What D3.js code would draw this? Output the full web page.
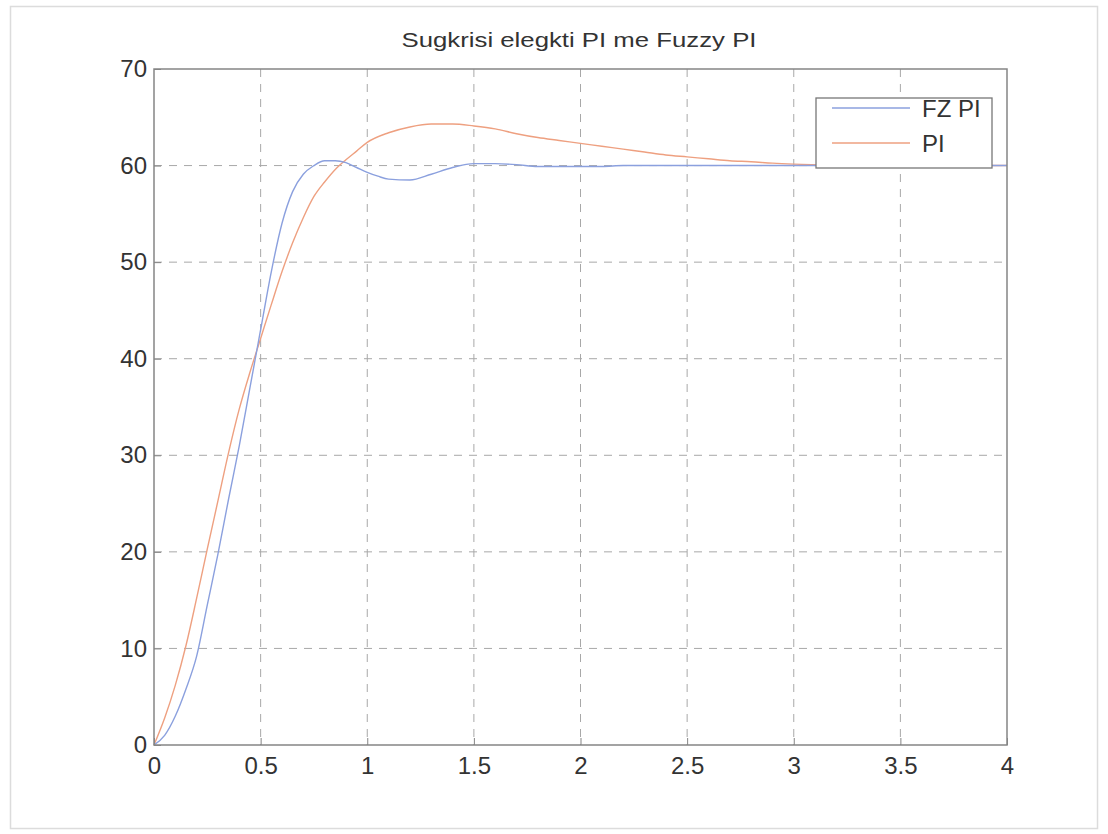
<!DOCTYPE html>
<html>
<head>
<meta charset="utf-8">
<script src="https://cdn.jsdelivr.net/npm/d3@7"></script>
<style>
  html, body { margin: 0; padding: 0; background: #fff; }
  svg { display: block; }
  text { font-family: "Liberation Sans", Arial, Helvetica, sans-serif; fill: #333; }
</style>
</head>
<body>
<svg id="chart" width="1108" height="834"></svg>
<script>
// Step response samples: time (s) and output for each controller
const timePI = [0, 0.05, 0.1, 0.15, 0.2, 0.25, 0.3, 0.35, 0.4, 0.45, 0.5, 0.55, 0.6, 0.65, 0.7, 0.75, 0.8, 0.85, 0.9, 0.95,
  1.0, 1.1, 1.2, 1.3, 1.4, 1.5, 1.6, 1.7, 1.8, 1.9, 2.0, 2.1, 2.2, 2.3, 2.4, 2.5, 2.6, 2.7, 2.8, 2.9, 3.0, 3.2, 3.5, 4.0];
const valuesPI = [0, 2.8, 6.2, 10.3, 15.2, 20.3, 25.3, 30.3, 34.8, 38.6, 42.1, 45.6, 49.0, 52.0, 54.6, 56.8, 58.3, 59.6, 60.6, 61.5,
  62.4, 63.4, 64.0, 64.3, 64.3, 64.1, 63.8, 63.3, 62.9, 62.6, 62.3, 62.0, 61.7, 61.4, 61.1, 60.9, 60.7, 60.5, 60.4, 60.25, 60.15, 60.05, 60.0, 60.0];

const timeFZ = [0, 0.05, 0.1, 0.15, 0.2, 0.25, 0.3, 0.35, 0.4, 0.45, 0.5, 0.55, 0.6, 0.65, 0.7, 0.75, 0.8, 0.85, 0.9, 0.95,
  1.0, 1.05, 1.1, 1.2, 1.3, 1.4, 1.5, 1.6, 1.7, 1.8, 1.9, 2.0, 2.1, 2.2, 3.0, 4.0];
const valuesFZ = [0, 1.0, 3.0, 5.8, 9.2, 14.5, 19.8, 25.5, 31.0, 37.0, 43.0, 49.0, 54.0, 57.3, 59.1, 60.0, 60.5, 60.5, 60.3, 59.8,
  59.3, 58.9, 58.6, 58.5, 59.1, 59.8, 60.2, 60.2, 60.1, 59.9, 59.9, 59.9, 59.9, 60.0, 60.0, 60.0];

const xTicks = [0, 0.5, 1, 1.5, 2, 2.5, 3, 3.5, 4];
const yTicks = [0, 10, 20, 30, 40, 50, 60, 70];
const seriesNames = ["FZ PI", "PI"];
const seriesColors = ["#8ba0de", "#eea080"];
const titleText = "Sugkrisi elegkti PI me Fuzzy PI";

const svg = d3.select("#chart");

// Figure border
svg.append("rect")
  .attr("x", 10.5).attr("y", 6.5).attr("width", 1087).attr("height", 822)
  .attr("fill", "none").attr("stroke", "#dcdcdc").attr("stroke-width", 1.5);

const plot = { left: 154, right: 1007, top: 69, bottom: 745 };

const x = d3.scaleLinear().domain([0, 4]).range([plot.left, plot.right]);
const y = d3.scaleLinear().domain([0, 70]).range([plot.bottom, plot.top]);

// Dashed grid
const grid = svg.append("g");
grid.selectAll("line.gx").data(xTicks.slice(1, -1)).join("line")
  .attr("x1", d => x(d)).attr("x2", d => x(d))
  .attr("y1", plot.top).attr("y2", plot.bottom)
  .attr("stroke", "#a8a8a8").attr("stroke-width", 1).attr("stroke-dasharray", "8,7");
grid.selectAll("line.gy").data(yTicks.slice(1, -1)).join("line")
  .attr("x1", plot.left).attr("x2", plot.right)
  .attr("y1", d => y(d)).attr("y2", d => y(d))
  .attr("stroke", "#a8a8a8").attr("stroke-width", 1).attr("stroke-dasharray", "8,7");

// Curves
const line = d3.line().x(d => x(d[0])).y(d => y(d[1])).curve(d3.curveMonotoneX);
const fzData = timeFZ.map((t, i) => [t, valuesFZ[i]]);
const piData = timePI.map((t, i) => [t, valuesPI[i]]);

svg.append("path").datum(piData).attr("d", line)
  .attr("fill", "none").attr("stroke", seriesColors[1]).attr("stroke-width", 1.4);
svg.append("path").datum(fzData).attr("d", line)
  .attr("fill", "none").attr("stroke", seriesColors[0]).attr("stroke-width", 1.4);

// Axes box with inward ticks
const axisColor = "#858585";
svg.append("rect")
  .attr("x", plot.left).attr("y", plot.top)
  .attr("width", plot.right - plot.left).attr("height", plot.bottom - plot.top)
  .attr("fill", "none").attr("stroke", axisColor).attr("stroke-width", 1.5);

const xAxis = d3.axisBottom(x).tickValues(xTicks).tickSize(-7).tickPadding(12)
  .tickFormat(d => d3.format("")(d));
const gx = svg.append("g").attr("transform", `translate(0,${plot.bottom})`).call(xAxis);
gx.select(".domain").remove();
gx.selectAll(".tick line").attr("stroke", axisColor);
gx.selectAll(".tick text").attr("font-size", 24).style("fill", "#333");

const yAxis = d3.axisLeft(y).tickValues(yTicks).tickSize(-7).tickPadding(7);
const gy = svg.append("g").attr("transform", `translate(${plot.left},0)`).call(yAxis);
gy.select(".domain").remove();
gy.selectAll(".tick line").attr("stroke", axisColor);
gy.selectAll(".tick text").attr("font-size", 24).style("fill", "#333");

// Title
svg.append("text")
  .attr("x", 579).attr("y", 47)
  .attr("text-anchor", "middle").attr("font-size", 21)
  .attr("textLength", 355).attr("lengthAdjust", "spacingAndGlyphs")
  .text(titleText);

// Legend
const lg = svg.append("g");
lg.append("rect")
  .attr("x", 816).attr("y", 98).attr("width", 176).attr("height", 70)
  .attr("fill", "#fff").attr("stroke", "#777").attr("stroke-width", 1.3);
seriesNames.forEach((name, i) => {
  const cy = 108 + i * 35;
  lg.append("line")
    .attr("x1", 832).attr("x2", 910).attr("y1", cy).attr("y2", cy)
    .attr("stroke", seriesColors[i]).attr("stroke-width", 1.4);
  lg.append("text")
    .attr("x", 922).attr("y", cy + 9)
    .attr("font-size", 24)
    .text(name);
});
</script>
</body>
</html>
